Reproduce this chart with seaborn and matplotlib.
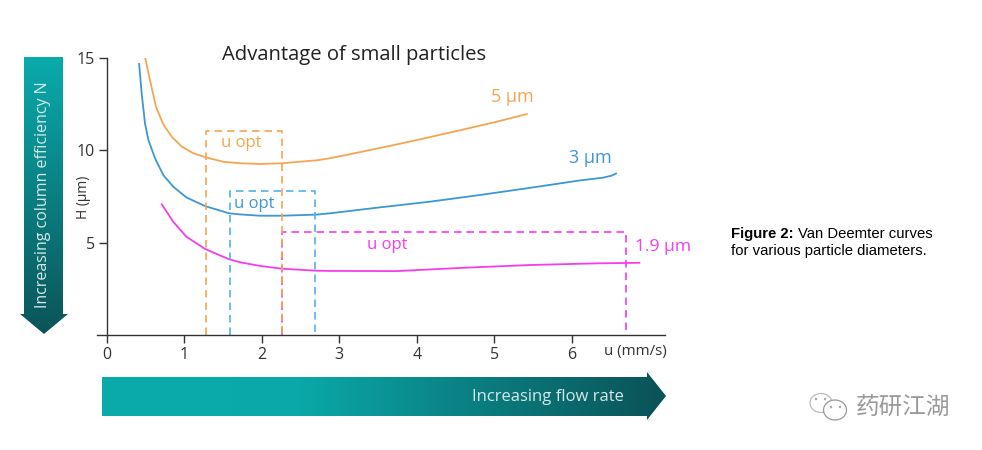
import numpy as np
import pandas as pd
import matplotlib
matplotlib.use("Agg")
import matplotlib.pyplot as plt
from matplotlib.colors import LinearSegmentedColormap
from matplotlib.patches import Polygon, Ellipse
import seaborn as sns

# Curves
u_5 = [0.49, 0.56, 0.638, 0.73, 0.84, 0.97, 1.12, 1.28, 1.505, 1.72, 1.98, 2.26, 2.71, 2.88, 3.30, 3.74, 4.17, 4.60, 5.03, 5.42]
h_5 = [15.18, 13.8, 12.36, 11.42, 10.74, 10.2, 9.84, 9.62, 9.38, 9.30, 9.26, 9.30, 9.46, 9.57, 9.93, 10.32, 10.72, 11.13, 11.55, 11.97]
u_3 = [0.42, 0.453, 0.496, 0.54, 0.625, 0.732, 0.86, 1.03, 1.27, 1.58, 1.72, 1.98, 2.26, 2.71, 2.88, 3.52, 4.17, 4.81, 5.46, 6.10, 6.40, 6.51, 6.57]
h_3 = [14.69, 13.09, 11.46, 10.56, 9.57, 8.66, 8.03, 7.45, 6.98, 6.59, 6.53, 6.46, 6.46, 6.52, 6.59, 6.91, 7.22, 7.58, 7.97, 8.37, 8.52, 8.63, 8.75]
u_19 = [0.71, 0.86, 1.03, 1.27, 1.58, 1.72, 1.98, 2.26, 2.71, 2.88, 3.74, 4.60, 5.46, 6.32, 6.87]
h_19 = [7.09, 6.13, 5.32, 4.66, 4.10, 3.94, 3.74, 3.59, 3.48, 3.47, 3.46, 3.64, 3.79, 3.88, 3.91]

# u opt boxes: left, right, top
box_5 = [1.28, 2.26, 11.05]
box_3 = [1.59, 2.69, 7.80]
box_19 = [2.26, 6.70, 5.57]

x_ticks = [0, 1, 2, 3, 4, 5, 6]
y_ticks = [5, 10, 15]

orange = "#F6A552"
blue = "#3D97D3"
magenta = "#F53CEE"
box_blue = "#55B0EE"
dark = "#333333"
font = "Open Sans"

sns.set_theme(style="white")
plt.rcParams["font.family"] = [font, "DejaVu Sans"]

fig = plt.figure(figsize=(9.82, 4.5), dpi=100, facecolor="white")

# overlay in pixel coordinates for arrows and free text
bg = fig.add_axes([0, 0, 1, 1])
bg.set_xlim(0, 982)
bg.set_ylim(450, 0)
bg.axis("off")

# main axes: x=0 at 106.5px, unit 77.6px, y=0 at 335px, unit 18.47px
x_min = -9.5 / 77.6
x_max = (665 - 106.5) / 77.6
left = 97
right = 665
ax = fig.add_axes([left / 982, (450 - 335) / 450, (right - left) / 982, (335 - 58) / 450])
ax.patch.set_alpha(0)

curves = pd.concat([
    pd.DataFrame({"u": u_5, "H": h_5, "size": "5"}),
    pd.DataFrame({"u": u_3, "H": h_3, "size": "3"}),
    pd.DataFrame({"u": u_19, "H": h_19, "size": "1.9"}),
])
sns.lineplot(data=curves, x="u", y="H", hue="size", sort=False, estimator=None,
             palette={"5": orange, "3": blue, "1.9": magenta}, linewidth=1.3,
             legend=False, ax=ax)

for box, color in [(box_19, magenta), (box_3, box_blue), (box_5, orange)]:
    l, r, t = box
    ax.plot([l, l, r, r], [0, t, t, 0], color=color, lw=1.2, linestyle=(0, (4.5, 3)))

ax.set_xlim(x_min, x_max)
ax.set_ylim(0, 15)
ax.set_xticks(x_ticks)
ax.set_yticks(y_ticks)
ax.set_xlabel("")
ax.set_ylabel("")
for s in ["top", "right"]:
    ax.spines[s].set_visible(False)
ax.spines["left"].set_position(("data", 0))
ax.spines["left"].set_color(dark)
ax.spines["bottom"].set_color(dark)
ax.spines["left"].set_linewidth(1.0)
ax.spines["bottom"].set_linewidth(1.0)
ax.tick_params(axis="both", length=5.5, width=1.0, color=dark, labelcolor=dark,
               labelsize=11.5, left=True, bottom=True, pad=3)

# gradient arrows
h_cmap = LinearSegmentedColormap.from_list("h", [(0, "#0AABAC"), (0.35, "#0AA8A9"), (1, "#0A5256")])
v_cmap = LinearSegmentedColormap.from_list("v", [(0, "#0AABAC"), (1, "#0A5458")])

grad = np.linspace(0, 1, 256)
im = bg.imshow(grad[None, :], cmap=h_cmap, extent=(102, 666, 420, 372), aspect="auto")
im.set_clip_path(Polygon([(102, 377), (647, 377), (647, 372), (666, 396), (647, 420), (647, 416), (102, 416)],
                         transform=bg.transData))
im = bg.imshow(grad[:, None], cmap=v_cmap, extent=(20, 68, 334, 57), aspect="auto", origin="upper")
im.set_clip_path(Polygon([(24, 57), (63, 57), (63, 314), (68, 314), (44, 334), (20, 314), (24, 314)],
                         transform=bg.transData))
bg.set_xlim(0, 982)
bg.set_ylim(450, 0)

bg.text(548, 397, "Increasing flow rate", color="#D5E8E8", fontsize=12, ha="center", va="center")
bg.text(43, 195, "Increasing column efficiency N", color="#D5E8E8", fontsize=11.5,
        rotation=90, ha="center", va="center")

# free text
bg.text(354.5, 55, "Advantage of small particles", color="#222222", fontsize=14.6, ha="center", va="center")
bg.text(84, 197, "H (µm)", color=dark, fontsize=10, rotation=90, ha="center", va="center")
bg.text(635.5, 352, "u (mm/s)", color=dark, fontsize=10.8, ha="center", va="center")
bg.text(512, 97, "5 µm", color=orange, fontsize=13, ha="center", va="center")
bg.text(590, 158, "3 µm", color=blue, fontsize=13, ha="center", va="center")
bg.text(663, 247, "1.9 µm", color=magenta, fontsize=12.6, ha="center", va="center")
bg.text(241, 143, "u opt", color=orange, fontsize=12, ha="center", va="center")
bg.text(254, 204, "u opt", color=blue, fontsize=12, ha="center", va="center")
bg.text(387, 245, "u opt", color=magenta, fontsize=12, ha="center", va="center")

# caption
bg.text(731, 234, "Figure 2:", family="Liberation Sans", fontweight="bold", fontsize=10.7, color="black", va="center")
bg.text(798, 234, "Van Deemter curves", family="Liberation Sans", fontsize=10.7, color="black", va="center")
bg.text(731, 251, "for various particle diameters.", family="Liberation Sans", fontsize=10.7, color="black", va="center")

# watermark
grey = "#9A9A9A"
bg.add_patch(Ellipse((821, 403), 22, 19, fill=False, ec="#BBBBBB", lw=0.9))
bg.add_patch(Ellipse((835, 410), 23, 20, fc="white", ec="#999999", lw=0.9))
for ex, ey in [(816, 399), (825, 399), (831, 407), (840, 407)]:
    bg.add_patch(Ellipse((ex, ey), 2.5, 2.5, fc="#AAAAAA", ec="none"))
bg.text(903, 408, "药研江湖", family=["Noto Sans CJK SC", "DejaVu Sans"], color=grey, fontsize=17,
        ha="center", va="center")

fig.savefig("out.png", dpi=100)
